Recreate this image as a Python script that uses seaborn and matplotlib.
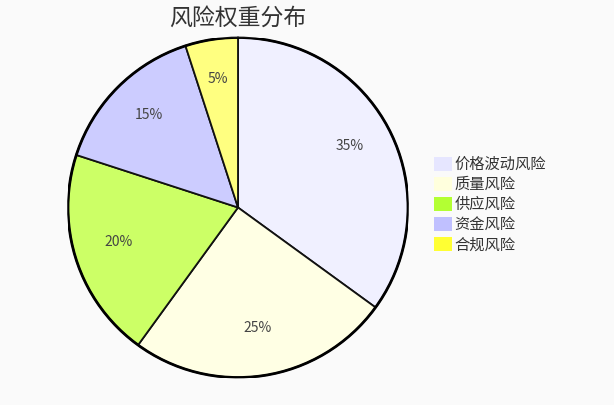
import matplotlib
matplotlib.use("Agg")
import matplotlib.pyplot as plt
import seaborn as sns
from matplotlib.patches import Patch, Circle

sns.set_theme(style="white")
plt.rcParams['font.family'] = ['Noto Sans CJK SC', 'DejaVu Sans']

categories = ["价格波动风险", "质量风险", "供应风险", "资金风险", "合规风险"]
values = [35, 25, 20, 15, 5]
slice_colors = ["#f0f0ff", "#ffffe4", "#ccff66", "#ccccff", "#ffff80"]
legend_colors = ["#e6e6ff", "#ffffdd", "#b3ff33", "#c0c0ff", "#ffff33"]
title = "风险权重分布"

W, H = 614, 405
fig = plt.figure(figsize=(W / 100, H / 100), dpi=100)
fig.patch.set_facecolor("#fafafa")

cx, cy, r = 238, 207.5, 170
ax = fig.add_axes([(cx - r) / W, (H - cy - r) / H, 2 * r / W, 2 * r / H])
ax.set_facecolor("none")

wedges, texts, autotexts = ax.pie(
    values, colors=slice_colors, startangle=90, counterclock=False,
    autopct="%d%%", pctdistance=0.74, radius=1.0,
    wedgeprops=dict(edgecolor="#111111", linewidth=1.3),
    textprops=dict(fontsize=10, color="#444444"),
)
for t in autotexts:
    x, y = t.get_position()
    t.set_position((x, y + 4 / r))
ax.add_patch(Circle((0, 0), 1.0, fill=False, edgecolor="#000000", linewidth=2.0, zorder=5))
ax.set_xlim(-1.0, 1.0)
ax.set_ylim(-1.0, 1.0)
ax.set_aspect("auto")
ax.axis("off")

fig.text(cx / W, 1 - 18 / H, title, ha="center", va="center", fontsize=16.5, color="#333333")

handles = [Patch(facecolor=c, edgecolor="none") for c in legend_colors]
leg = fig.legend(handles, categories, loc="upper left",
                 bbox_to_anchor=(428 / W, 1 - 150 / H), frameon=False,
                 fontsize=11, handlelength=1.2, handleheight=1.1,
                 handletextpad=0.15, labelspacing=0.2, borderaxespad=0)
for t in leg.get_texts():
    t.set_color("#333333")

fig.savefig("out.png", dpi=100, facecolor=fig.get_facecolor())
